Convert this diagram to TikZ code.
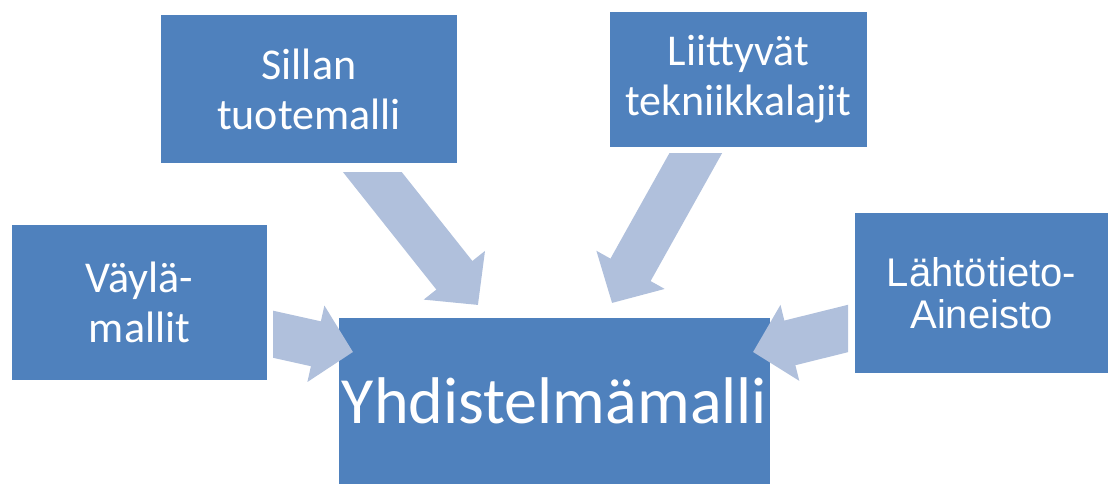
\documentclass[tikz,border=0pt]{standalone}
\usepackage{fontspec}
\setmainfont{Carlito}
\newfontfamily\arialfont{Liberation Sans}
\usetikzlibrary{arrows.meta}
\definecolor{boxblue}{RGB}{79,129,189}
\definecolor{arrowblue}{RGB}{176,192,220}

\begin{document}
\begin{tikzpicture}[x=0.5pt, y=-0.5pt,
    modelbox/.style={rectangle, fill=boxblue, text=white, inner sep=0pt, align=center, font=\fontsize{22}{25}\selectfont},
    blockarrow/.style={draw=arrowblue, line width=23pt, -{Triangle[length=19pt, width=38pt]}}]
    \useasboundingbox (0,0) rectangle (1110,484);

    \node[modelbox, minimum width=127.5pt, minimum height=77.5pt] (vayla) at (139.5,302.5) {Väylä-\\mallit};
    \node[modelbox, minimum width=148pt, minimum height=74pt] (sillan) at (309,89) {Sillan\\tuotemalli};
    \node[modelbox, minimum width=128.5pt, minimum height=67.5pt] (liitty) at (738.5,79.5) {Liittyvät\\tekniikkalajit};
    \node[modelbox, minimum width=126.5pt, minimum height=80pt, font=\arialfont\fontsize{20}{21}\selectfont] (lahto) at (981.5,293) {Lähtötieto-\\Aineisto};
    \node[modelbox, minimum width=215.5pt, minimum height=83pt, font=\fontsize{33}{36}\selectfont] (yhd) at (554.5,401) {Yhdistelmämalli};

    % arrow ends (tails cut straight by the clips)
    \coordinate (vaylaout) at (263,332);
    \coordinate (vaylain) at (353,352);
    \coordinate (sillanout) at (358,154);
    \coordinate (sillanin) at (478,305);
    \coordinate (liittyout) at (707,133);
    \coordinate (liittyin) at (612,303);
    \coordinate (lahtoout) at (858,326);
    \coordinate (lahtoin) at (753,352);

    \begin{scope}
        \clip (273,0) rectangle (1110,484);
        \draw[blockarrow] (vaylaout) -- (vaylain);
    \end{scope}
    \begin{scope}
        \clip (0,172) rectangle (1110,484);
        \draw[blockarrow] (sillanout) -- (sillanin);
    \end{scope}
    \begin{scope}
        \clip (0,153) rectangle (1110,484);
        \draw[blockarrow] (liittyout) -- (liittyin);
    \end{scope}
    \begin{scope}
        \clip (0,0) rectangle (848,484);
        \draw[blockarrow] (lahtoout) -- (lahtoin);
    \end{scope}
\end{tikzpicture}
\end{document}
